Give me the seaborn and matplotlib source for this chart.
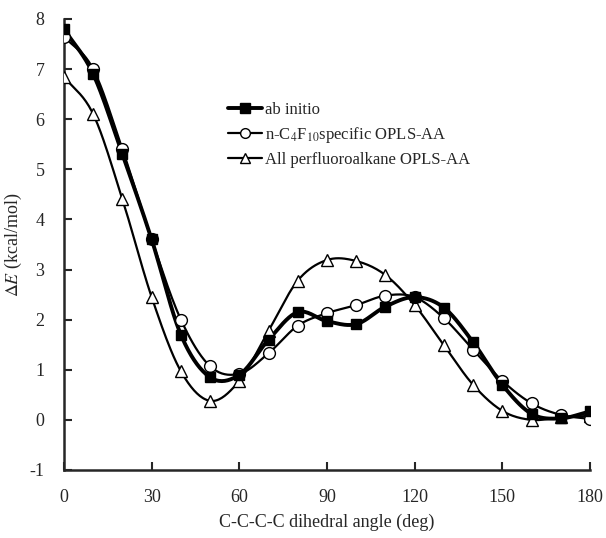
import numpy as np
import pandas as pd
import seaborn as sns
import matplotlib.pyplot as plt
from matplotlib.lines import Line2D

# dihedral angles (deg)
angle = [0, 10, 20, 30, 40, 50, 60, 70, 80, 90, 100, 110, 120, 130, 140, 150, 160, 170, 180]

# energies (kcal/mol)
ab_initio = [7.8, 6.9, 5.3, 3.6, 1.7, 0.85, 0.9, 1.6, 2.15, 1.97, 1.91, 2.26, 2.45, 2.24, 1.55, 0.7, 0.12, 0.03, 0.17]
c4f10_opls = [7.65, 7.0, 5.4, 3.6, 2.0, 1.07, 0.92, 1.33, 1.88, 2.13, 2.29, 2.48, 2.45, 2.03, 1.4, 0.78, 0.33, 0.1, 0.02]
all_pf_opls = [6.85, 6.1, 4.4, 2.45, 0.97, 0.38, 0.78, 1.78, 2.78, 3.19, 3.17, 2.89, 2.29, 1.49, 0.7, 0.18, 0.0, 0.05, 0.08]

labels = ['ab initio', 'n-C$_4$F$_{10}$specific OPLS-AA', 'All perfluoroalkane OPLS-AA']


def smooth(x, y, n=20):
    # Catmull-Rom style curve through the points (like a spreadsheet "smoothed line")
    x = np.asarray(x, float)
    y = np.asarray(y, float)
    px = np.concatenate([[2 * x[0] - x[1]], x, [2 * x[-1] - x[-2]]])
    py = np.concatenate([[2 * y[0] - y[1]], y, [2 * y[-1] - y[-2]]])
    xs, ys = [], []
    t = np.linspace(0, 1, n, endpoint=False)
    for i in range(1, len(px) - 2):
        for p, out in ((px, xs), (py, ys)):
            p0, p1, p2, p3 = p[i - 1], p[i], p[i + 1], p[i + 2]
            out.extend(0.5 * ((2 * p1) + (-p0 + p2) * t + (2 * p0 - 5 * p1 + 4 * p2 - p3) * t ** 2
                              + (-p0 + 3 * p1 - 3 * p2 + p3) * t ** 3))
    xs.append(x[-1])
    ys.append(y[-1])
    return np.array(xs), np.array(ys)


sns.set_style('ticks')
plt.rcParams['font.family'] = ['Liberation Serif', 'DejaVu Serif']
plt.rcParams['mathtext.fontset'] = 'stix'
plt.rcParams['axes.unicode_minus'] = False

fig = plt.figure(figsize=(6.06, 5.38), dpi=100)
ax = fig.add_axes([0.1056, 0.1264, 0.868, 0.8383])

styles = [
    dict(marker='s', mfc='black', lw=2.8),
    dict(marker='o', mfc='white', lw=1.6),
    dict(marker='^', mfc='white', lw=1.6),
]
series = [ab_initio, c4f10_opls, all_pf_opls]

# draw in reverse so ab initio sits on top
for vals, st in reversed(list(zip(series, styles))):
    sx, sy = smooth(angle, vals)
    sns.lineplot(x=sx, y=sy, ax=ax, color='black', lw=st['lw'], sort=False, estimator=None)
    ax.plot(angle, vals, linestyle='none', marker=st['marker'], ms=8.5 if st['marker'] != 's' else 7.5,
            mfc=st['mfc'], mec='black', mew=1.0, zorder=3)

ax.set_xlim(0, 180)
ax.set_ylim(-1, 8)
ax.set_xticks(range(0, 181, 30))
ax.set_yticks(range(-1, 9))
ax.tick_params(direction='in', length=6, width=1.5, labelsize=13, pad=14)
ax.tick_params(axis='y', pad=14)
for s in ['left', 'bottom']:
    ax.spines[s].set_linewidth(1.8)
sns.despine(ax=ax)

ax.set_xlabel('C-C-C-C dihedral angle (deg)', fontsize=13, labelpad=5)
ax.set_ylabel(r'$\Delta E$ (kcal/mol)', fontsize=13, labelpad=4)

handles = [Line2D([], [], color='black', lw=st['lw'], marker=st['marker'], mfc=st['mfc'], mec='black',
                  ms=7) for st in styles]
ax.legend(handles, labels, loc='upper left', bbox_to_anchor=(0.30, 0.83), frameon=False,
          fontsize=12, handlelength=2.0, handletextpad=0.2, labelspacing=0.4, borderaxespad=0)

fig.savefig('out.png', dpi=100)
